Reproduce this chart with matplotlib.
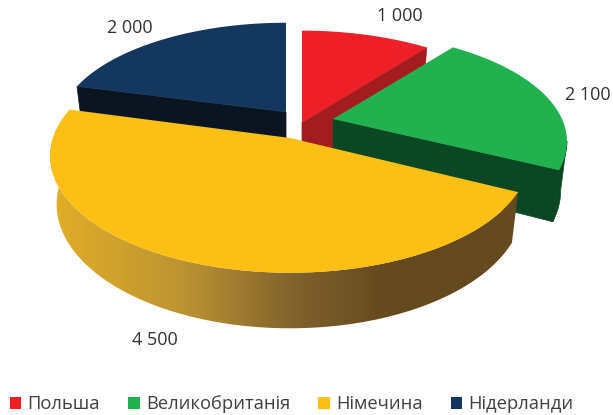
import numpy as np
import matplotlib
matplotlib.use('Agg')
import matplotlib.pyplot as plt
from matplotlib.patches import Patch, PathPatch, Polygon
from matplotlib.path import Path
from matplotlib.colors import LinearSegmentedColormap

countries = ['Польша', 'Великобританія', 'Німечина', 'Нідерланди']
values = [1000, 2100, 4500, 2000]
value_labels = ['1 000', '2 100', '4 500', '2 000']

top_colors = ['#ee1f27', '#21b24f', '#fcc014', '#13375f']
wall_colors = ['#a31c20', '#0a4722', '#fcc014', '#0b1522']

# pixel layout of each slice: apex, radii and perspective strength
apex_x = [302, 333, 290, 286]
apex_y = [122.5, 119, 138, 112]
radius_x = [230, 229, 237, 225]
radius_y = [106, 105, 114, 103]
persp = [0.154, 0.205, 0.154, 0.154]
label_x = [400, 588, 155, 130]
label_y = [16, 95, 340, 28]

SHRINK = 0.973
HEIGHT = 47

plt.rcParams['font.family'] = ['Open Sans', 'DejaVu Sans']

fig = plt.figure(figsize=(6.13, 4.15), dpi=100)
ax = fig.add_axes([0, 0, 1, 1])

edges = np.cumsum([0] + values) / sum(values) * 2 * np.pi


def project(i, theta):
    s = 1 / (1 + persp[i] * np.cos(theta))
    x = apex_x[i] + radius_x[i] * np.sin(theta) * s
    y = apex_y[i] - radius_y[i] * np.cos(theta) * s
    x_low = apex_x[i] + (x - apex_x[i]) * SHRINK
    y_low = y + HEIGHT * s
    return x, y, x_low, y_low


# back to front: navy, red, green, yellow
for z, i in enumerate([3, 0, 1, 2]):
    z = 2 + z * 2
    theta = np.linspace(edges[i], edges[i + 1], 120)
    x, y, xl, yl = project(i, theta)
    top = np.column_stack([np.r_[apex_x[i], x], np.r_[apex_y[i], y]])
    low_y = apex_y[i] + HEIGHT

    if i == 2:
        # yellow rim carries the horizontal gradient
        cmap = LinearSegmentedColormap.from_list(
            'rim', [(0, '#e2ae26'), (0.28, '#bd9433'), (0.52, '#80622c'),
                    (0.72, '#65491f'), (1, '#65491f')])
        grad = np.linspace(0, 1, 256).reshape(1, -1)
        im = ax.imshow(grad, cmap=cmap, extent=[50, 520, 340, 100], aspect='auto', zorder=z)
        rim = np.column_stack([np.r_[x, xl[::-1]], np.r_[y, yl[::-1]]])
        im.set_clip_path(PathPatch(Path(rim), transform=ax.transData))
    else:
        # only the part of the rim past the widest point faces the viewer
        k0 = np.argmax(x)
        if k0 < len(x) - 1:
            rim = np.column_stack([np.r_[x[k0:], xl[k0:][::-1]], np.r_[y[k0:], yl[k0:][::-1]]])
            ax.add_patch(Polygon(rim, fc=wall_colors[i], ec=wall_colors[i], lw=0.5, zorder=z))
        # same for the straight cut: left slices show the first edge, right slices the last
        k = 0 if x[0] < apex_x[i] else -1
        ax.add_patch(Polygon([(apex_x[i], apex_y[i]), (x[k], y[k]), (xl[k], yl[k]), (apex_x[i], low_y)],
                             fc=wall_colors[i], ec=wall_colors[i], lw=0.5, zorder=z))
    ax.add_patch(Polygon(top, fc=top_colors[i], ec='none', zorder=z + 1))

for i, lab in enumerate(value_labels):
    ax.text(label_x[i], label_y[i], lab, ha='center', va='center', fontsize=13, color='#333333', zorder=20)

handles = [Patch(fc=c, ec='none') for c in top_colors]
ax.legend(handles, countries, loc='lower left', bbox_to_anchor=(0.0134, 0.0), ncol=4, frameon=False,
          fontsize=13.2, labelcolor='#404040', handlelength=0.62, handleheight=0.62,
          handletextpad=0.33, columnspacing=1.55, borderpad=0.05, borderaxespad=0.05)

ax.set_xlim(0, 613)
ax.set_ylim(415, 0)
ax.axis('off')

fig.savefig('out.png', dpi=100)
